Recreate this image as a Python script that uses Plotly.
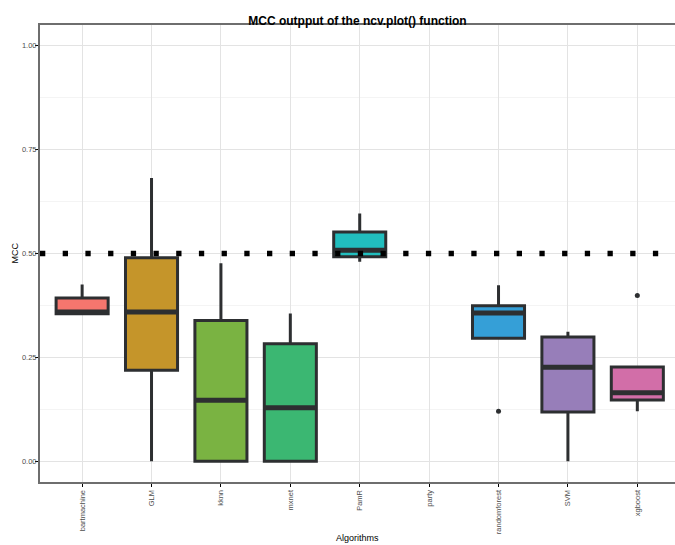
import plotly.graph_objects as go

categories = ["bartmachine", "GLM", "kknn", "mxnet", "PamR", "party",
              "randomforest", "SVM", "xgboost"]
lower_fence = [0.355, 0.000, 0.000, 0.000, 0.480, None, 0.296, 0.000, 0.120]
q1_vals     = [0.355, 0.219, 0.000, 0.000, 0.492, None, 0.296, 0.1185, 0.1474]
median_vals = [0.359, 0.359, 0.1466, 0.129, 0.508, None, 0.357, 0.226, 0.165]
q3_vals     = [0.3926, 0.490, 0.339, 0.283, 0.552, None, 0.374, 0.2988, 0.2267]
upper_fence = [0.4255, 0.682, 0.4767, 0.3557, 0.596, None, 0.4238, 0.3116, 0.2267]
outlier_cat = ["randomforest", "xgboost"]
outlier_val = [0.120, 0.399]
fill_colors = ["#F5766E", "#C5952A", "#7AB342", "#3BB772", "#21BEBE", "#00B9E3",
               "#359FD7", "#977EB9", "#D26EA8"]
threshold = 0.5
y_ticks = [0.0, 0.25, 0.5, 0.75, 1.0]
y_tick_text = ["0.00", "0.25", "0.50", "0.75", "1.00"]

BOX_W = 0.75
EDGE = "#2d2f31"
BORDER = "#6e6e6e"
FONT = "Liberation Sans, Arial, sans-serif"

fig = go.Figure()
for i, cat in enumerate(categories):
    if median_vals[i] is None:
        continue
    fig.add_trace(go.Box(
        x=[i], q1=[q1_vals[i]], median=[median_vals[i]], q3=[q3_vals[i]],
        lowerfence=[lower_fence[i]], upperfence=[upper_fence[i]],
        width=BOX_W, whiskerwidth=0, boxpoints=False,
        fillcolor=fill_colors[i], line=dict(color=EDGE, width=3),
        name=cat, showlegend=False, hoverinfo="skip"))
    # thicker median bar like ggplot
    fig.add_trace(go.Scatter(
        x=[i - BOX_W / 2, i + BOX_W / 2], y=[median_vals[i], median_vals[i]],
        mode="lines", line=dict(color=EDGE, width=5), showlegend=False,
        hoverinfo="skip"))

fig.add_trace(go.Scatter(
    x=[categories.index(c) for c in outlier_cat], y=outlier_val, mode="markers",
    marker=dict(color=EDGE, size=5), showlegend=False, hoverinfo="skip"))

fig.add_shape(type="line", xref="paper", x0=0, x1=1, yref="y", y0=threshold, y1=threshold,
              line=dict(color="black", width=5.3, dash="5.3px,17.4px"), layer="above")

fig.update_layout(
    width=675, height=545,
    margin=dict(l=40, r=0, t=25, b=63),
    paper_bgcolor="white", plot_bgcolor="white",
    font=dict(family=FONT, color="black"),
    title=dict(text="<b>MCC outpput of the ncv.plot() function</b>",
               font=dict(size=12, color="black", family=FONT),
               x=0.5, xref="paper", xanchor="center",
               y=1 - 20.7 / 545, yref="container", yanchor="middle"),
    xaxis=dict(range=[-0.607, 8.543], tickvals=list(range(len(categories))),
               ticktext=categories, tickangle=-90,
               tickfont=dict(size=7.5, color="#4d4d4d", family=FONT),
               ticks="outside", ticklen=3, tickwidth=1.2, tickcolor="black",
               showgrid=True, gridcolor="#e3e3e3", gridwidth=1,
               showline=True, linecolor=BORDER, linewidth=2, mirror=False,
               zeroline=False),
    # top panel border (the right side of the panel is cropped in the reference)
    xaxis2=dict(overlaying="x", side="top", matches="x", showline=True,
                linecolor=BORDER, linewidth=2.4, showticklabels=False, ticks="",
                showgrid=False, zeroline=False),
    yaxis=dict(range=[-0.05, 1.05], tickvals=y_ticks, ticktext=y_tick_text,
               tickfont=dict(size=7.5, color="#4d4d4d", family=FONT),
               ticks="outside", ticklen=3, tickwidth=1.2, tickcolor="black",
               ticklabelstandoff=-3,
               showgrid=True, gridcolor="#e3e3e3", gridwidth=1,
               minor=dict(dtick=0.125, showgrid=True, gridcolor="#f4f4f4", gridwidth=0.8,
                          ticks=""),
               showline=True, linecolor=BORDER, linewidth=2, mirror=False,
               zeroline=False),
    annotations=[
        dict(text="Algorithms", xref="paper", yref="paper", x=0.5, y=-56 / 457,
             xanchor="center", yanchor="middle", showarrow=False,
             font=dict(size=9, color="black", family=FONT)),
        dict(text="MCC", xref="paper", yref="paper", x=-26 / 635, y=0.5,
             xanchor="center", yanchor="middle", textangle=-90, showarrow=False,
             font=dict(size=9, color="black", family=FONT)),
    ],
)
# invisible helper so the top axis is drawn
fig.add_trace(go.Scatter(x=[0], y=[None], xaxis="x2", yaxis="y", showlegend=False,
                         hoverinfo="skip", mode="markers"))

fig.write_html("out.html", config={"displayModeBar": False},
               post_script="document.body.style.margin='0';document.body.style.padding='0';")
